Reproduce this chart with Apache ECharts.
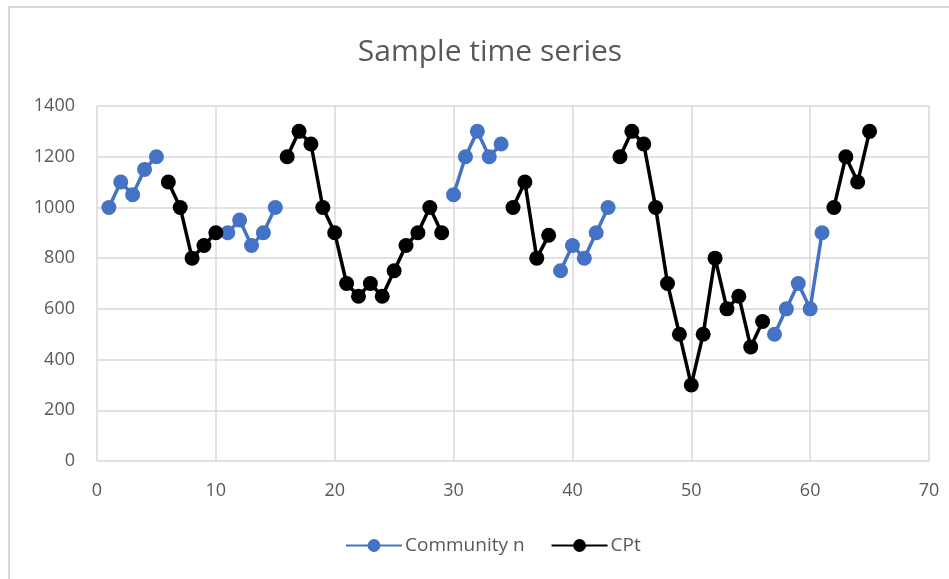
<!DOCTYPE html>
<html>
<head>
<meta charset="utf-8">
<script src="https://cdn.jsdelivr.net/npm/echarts@6/dist/echarts.min.js"></script>
<style>
  html, body { margin: 0; padding: 0; background: #fff; }
  #chart { width: 949px; height: 579px; }
</style>
</head>
<body>
<div id="chart"></div>
<script>
// Time steps 1..65; each series holds null where the other series owns the step,
// so the line breaks between segments.
var steps = [];
for (var i = 1; i <= 65; i++) steps.push(i);

var communityN = [
  1000, 1100, 1050, 1150, 1200,             // 1-5
  null, null, null, null, null,             // 6-10
  900, 950, 850, 900, 1000,                 // 11-15
  null, null, null, null, null, null, null, // 16-22
  null, null, null, null, null, null, null, // 23-29
  1050, 1200, 1300, 1200, 1250,             // 30-34
  null, null, null, null,                   // 35-38
  750, 850, 800, 900, 1000,                 // 39-43
  null, null, null, null, null, null, null, // 44-50
  null, null, null, null, null, null,       // 51-56
  500, 600, 700, 600, 900,                  // 57-61
  null, null, null, null                    // 62-65
];

var cpt = [
  null, null, null, null, null,             // 1-5
  1100, 1000, 800, 850, 900,                // 6-10
  null, null, null, null, null,             // 11-15
  1200, 1300, 1250, 1000, 900, 700, 650,    // 16-22
  700, 650, 750, 850, 900, 1000, 900,       // 23-29
  null, null, null, null, null,             // 30-34
  1000, 1100, 800, 890,                     // 35-38
  null, null, null, null, null,             // 39-43
  1200, 1300, 1250, 1000, 700, 500, 300,    // 44-50
  500, 800, 600, 650, 450, 550,             // 51-56
  null, null, null, null, null,             // 57-61
  1000, 1200, 1100, 1300                    // 62-65
];

var xTicks = [0, 10, 20, 30, 40, 50, 60, 70];
var yTicks = [0, 200, 400, 600, 800, 1000, 1200, 1400];

function pairs(values) {
  return steps.map(function (x, k) { return [x, values[k] === null ? null : values[k]]; });
}

var textColor = '#595959';
var gridColor = '#d9d9d9';
var fontFamily = '"Open Sans", "Noto Sans", sans-serif';

var chart = echarts.init(document.getElementById('chart'), null, { renderer: 'canvas' });
chart.setOption({
  animation: false,
  backgroundColor: '#ffffff',
  textStyle: { fontFamily: fontFamily },
  graphic: [
    {
      // chart frame
      type: 'rect',
      shape: { x: 9, y: 7, width: 980, height: 620 },
      style: { fill: 'none', stroke: gridColor, lineWidth: 2 },
      silent: true,
      z: -1
    },
    {
      // chart title, centred over the frame
      type: 'text',
      x: 490,
      y: 52,
      style: {
        text: 'Sample time series',
        fill: textColor,
        font: 'normal 30px ' + fontFamily,
        textAlign: 'center',
        textVerticalAlign: 'middle'
      },
      silent: true
    }
  ],
  legend: {
    bottom: 19,
    left: 340,
    itemWidth: 56,
    itemHeight: 16,
    itemGap: 26,
    textStyle: { color: textColor, fontSize: 19, fontFamily: fontFamily, padding: [0, 0, 0, -2] },
    data: ['Community n', 'CPt']
  },
  grid: { left: 97, top: 106, right: 20, bottom: 118, containLabel: false },
  xAxis: {
    type: 'value',
    min: xTicks[0],
    max: xTicks[xTicks.length - 1],
    interval: 10,
    axisLine: { show: false },
    axisTick: { show: false },
    axisLabel: { color: textColor, fontSize: 18, margin: 21 },
    splitLine: { show: true, lineStyle: { color: gridColor, width: 1.5 } }
  },
  yAxis: {
    type: 'value',
    min: yTicks[0],
    max: yTicks[yTicks.length - 1],
    interval: 200,
    axisLine: { show: false },
    axisTick: { show: false },
    axisLabel: { color: textColor, fontSize: 18, margin: 22, formatter: function (v) { return String(v); } },
    splitLine: { show: true, lineStyle: { color: gridColor, width: 1.5 } }
  },
  series: [
    {
      name: 'Community n',
      type: 'line',
      data: pairs(communityN),
      connectNulls: false,
      symbol: 'circle',
      symbolSize: 15,
      showAllSymbol: true,
      lineStyle: { color: '#4472C4', width: 3.5 },
      itemStyle: { color: '#4472C4' }
    },
    {
      name: 'CPt',
      type: 'line',
      data: pairs(cpt),
      connectNulls: false,
      symbol: 'circle',
      symbolSize: 15,
      showAllSymbol: true,
      lineStyle: { color: '#000000', width: 3.5 },
      itemStyle: { color: '#000000' }
    }
  ]
});
</script>
</body>
</html>
